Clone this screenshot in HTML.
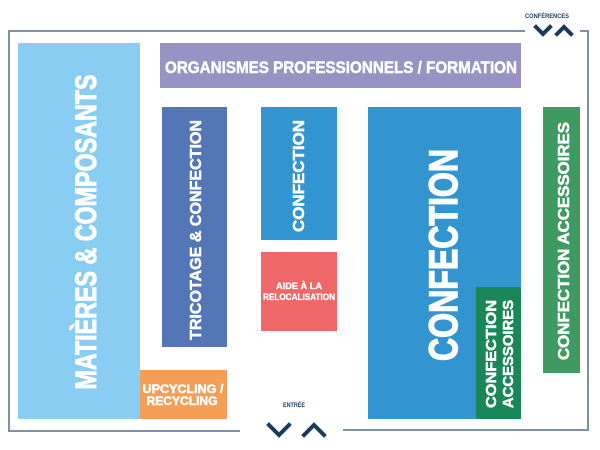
<!DOCTYPE html>
<html><head><meta charset="utf-8"><style>
html,body{margin:0;padding:0;background:#fff;}
svg{display:block;}
text{font-family:"Liberation Sans",sans-serif;font-weight:bold;fill:#fff;stroke:#fff;stroke-width:0.5;}
</style></head><body>
<svg width="600" height="450" viewBox="0 0 600 450" xmlns="http://www.w3.org/2000/svg">
<g stroke="#7d91a8" stroke-width="2" fill="none">
<polyline points="525,31 9,31 9,431 240,431"/>
<polyline points="343,430 588,430 588,31 580,31"/>
</g>
<g stroke="#1c3a5e" stroke-width="4" fill="none" stroke-linecap="square">
<polyline points="536,27 543,34 550,27"/>
<polyline points="557,34 564,27 571,34"/>
<polyline points="269,425 279,435 289,425"/>
<polyline points="304,435 314,425 324,435"/>
</g>
<text x="547" y="18" font-size="6" style="fill:#1c3a5e;stroke:none" text-anchor="middle" textLength="44" lengthAdjust="spacingAndGlyphs">CONFÉRENCES</text>
<text x="294" y="407" font-size="6" style="fill:#1c3a5e;stroke:none" text-anchor="middle" textLength="22" lengthAdjust="spacingAndGlyphs">ENTRÉE</text>

<rect x="18" y="43" width="122" height="376" fill="#8acdf3"/>
<rect x="160" y="43" width="361" height="45" fill="#9893c5"/>
<rect x="162" y="107" width="65" height="240" fill="#5475b6"/>
<rect x="261" y="107" width="76" height="133" fill="#3395cf"/>
<rect x="261" y="252" width="76" height="79" fill="#ef6766"/>
<rect x="368" y="107" width="153" height="312" fill="#3395cf"/>
<rect x="476" y="287" width="45" height="132" fill="#1a8759"/>
<rect x="543" y="107" width="37" height="266" fill="#3f9a62"/>
<rect x="140" y="370" width="87" height="49" fill="#f59e58"/>

<text x="341" y="73" font-size="17" text-anchor="middle" textLength="352" lengthAdjust="spacingAndGlyphs">ORGANISMES PROFESSIONNELS / FORMATION</text>
<text transform="translate(96,232) rotate(-90)" font-size="30" style="stroke-width:1" text-anchor="middle" textLength="315" lengthAdjust="spacingAndGlyphs">MATIÈRES &amp; COMPOSANTS</text>
<text transform="translate(201,230) rotate(-90)" font-size="16" text-anchor="middle" textLength="220" lengthAdjust="spacingAndGlyphs">TRICOTAGE &amp; CONFECTION</text>
<text transform="translate(304,176) rotate(-90)" font-size="16" text-anchor="middle" textLength="112" lengthAdjust="spacingAndGlyphs">CONFECTION</text>
<text x="299" y="289" font-size="9.5" style="stroke-width:0.3" text-anchor="middle" textLength="46" lengthAdjust="spacingAndGlyphs">AIDE À LA</text>
<text x="299" y="300" font-size="9.5" style="stroke-width:0.3" text-anchor="middle" textLength="72" lengthAdjust="spacingAndGlyphs">RELOCALISATION</text>
<text transform="translate(457,255) rotate(-90)" font-size="40" style="stroke-width:1.4" text-anchor="middle" textLength="212" lengthAdjust="spacingAndGlyphs">CONFECTION</text>
<text transform="translate(496,354) rotate(-90)" font-size="15" text-anchor="middle" textLength="108" lengthAdjust="spacingAndGlyphs">CONFECTION</text>
<text transform="translate(513,354) rotate(-90)" font-size="15" text-anchor="middle" textLength="108" lengthAdjust="spacingAndGlyphs">ACCESSOIRES</text>
<text transform="translate(569,241) rotate(-90)" font-size="16" text-anchor="middle" textLength="238" lengthAdjust="spacingAndGlyphs">CONFECTION ACCESSOIRES</text>
<text x="183" y="393" font-size="12" text-anchor="middle" textLength="81" lengthAdjust="spacingAndGlyphs">UPCYCLING /</text>
<text x="182" y="405" font-size="12" text-anchor="middle" textLength="71" lengthAdjust="spacingAndGlyphs">RECYCLING</text>
</svg>
</body></html>
